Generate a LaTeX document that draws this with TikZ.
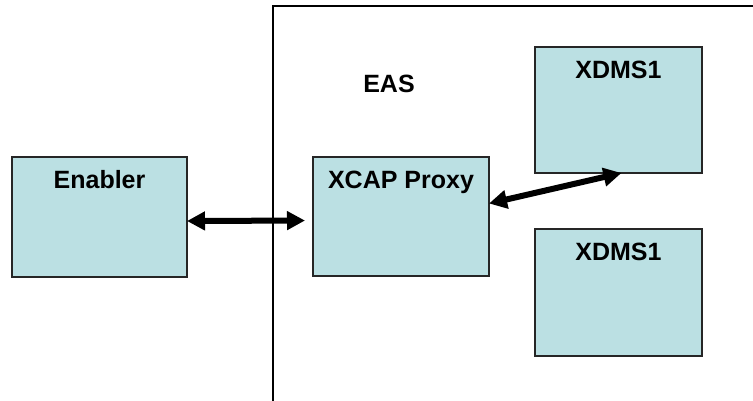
\documentclass[tikz,border=0pt]{standalone}
\usepackage{fontspec}
\newfontfamily\arialfont{Liberation Sans}
\usetikzlibrary{arrows.meta,calc}
\definecolor{boxblue}{RGB}{187,224,227}
\tikzset{
  box/.style={draw=black!85, fill=boxblue, rectangle, line width=1.3pt, inner sep=0pt, outer sep=0pt},
  lbl/.style={font=\arialfont\bfseries\fontsize{25}{30}\selectfont, anchor=base, inner sep=0pt},
  arr/.style={{Triangle[length=18pt,width=18pt]}-{Triangle[length=18pt,width=18pt]}, line width=6pt},
}
\begin{document}
\begin{tikzpicture}[x=1pt,y=-1pt]

\clip (0,0) rectangle (753,400);
\fill[white] (0,0) rectangle (753,400);

% EAS frame, runs off the right and bottom edges
\draw[line width=1.5pt] (273,6) rectangle (820,460);
\node[lbl] (eas) at (389,92) {EAS};

\node[box, minimum width=175pt, minimum height=120pt] (enabler) at (99.5,217) {};
\node[box, minimum width=176pt, minimum height=119pt] (proxy) at (401,216.5) {};
\node[box, minimum width=167pt, minimum height=126pt] (xdmsA) at (618.5,110) {};
\node[box, minimum width=167pt, minimum height=127pt] (xdmsB) at (618.5,292.5) {};

\node[lbl] (enablerT) at ($(enabler.north)+(0,31)$) {Enabler};
\node[lbl] (proxyT) at ($(proxy.north)+(0,31)$) {XCAP Proxy};
\node[lbl] (xdmsAT) at ($(xdmsA.north)+(0,31)$) {XDMS1};
\node[lbl] (xdmsBT) at ($(xdmsB.north)+(0,31)$) {XDMS1};

\draw[arr, shorten >=8pt] ([yshift=-4pt]enabler.east) -- ([yshift=-4pt]proxy.west);
\draw[arr] ([yshift=13pt]proxy.east) -- ([xshift=3pt]xdmsA.south);

\end{tikzpicture}
\end{document}
